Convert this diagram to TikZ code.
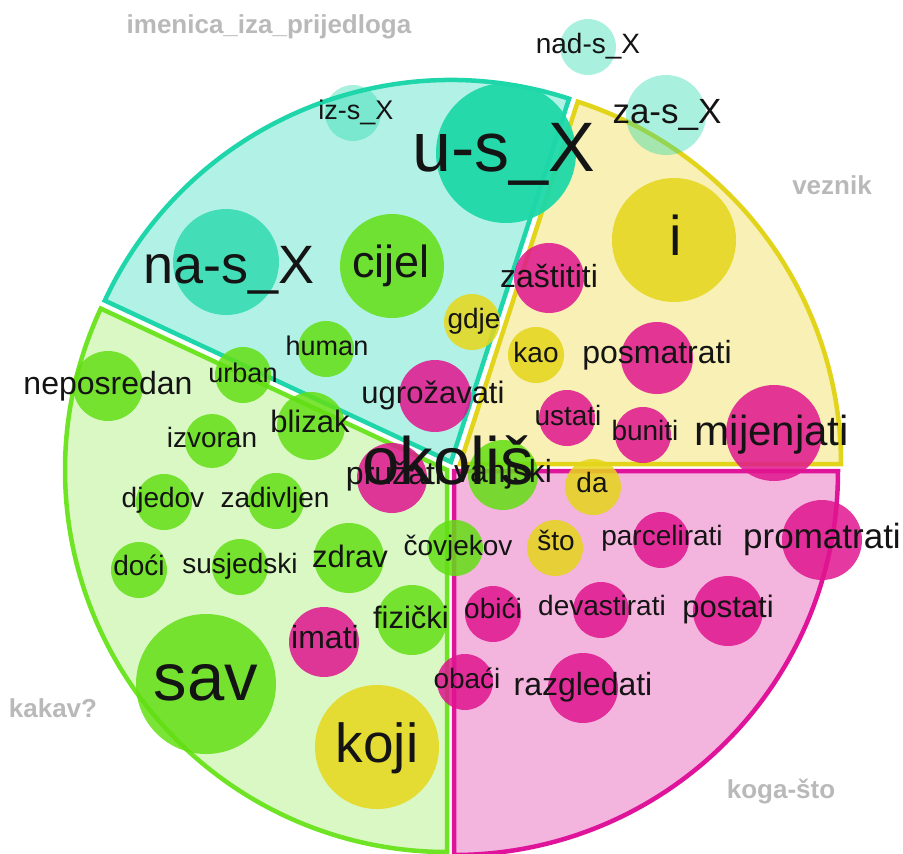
\documentclass[tikz,border=0pt]{standalone}
\usepackage{fontspec}
\setmainfont{Liberation Sans}

% palette
\definecolor{tealline}{HTML}{1FD6AB}
\definecolor{tealfill}{HTML}{B2F2E6}
\definecolor{tealdot}{HTML}{1ED8A8}
\definecolor{yelline}{HTML}{E2D41A}
\definecolor{yelfill}{HTML}{F8F0B4}
\definecolor{yeldot}{HTML}{E6D61A}
\definecolor{pinkline}{HTML}{E0149A}
\definecolor{pinkfill}{HTML}{F3B4DD}
\definecolor{pinkdot}{HTML}{E0158F}
\definecolor{grnline}{HTML}{6EE424}
\definecolor{grnfill}{HTML}{D9F8C4}
\definecolor{grndot}{HTML}{63DF14}
\definecolor{ink}{HTML}{141414}
\definecolor{tag}{HTML}{B9B9B9}

\tikzset{
  sector/.style={line width=4.5pt, line join=miter},
  bubble/.style={circle, inner sep=0pt, draw=none, fill opacity=0.85, minimum size=#1},
  gdot/.style={bubble=#1, fill=grndot},
  mdot/.style={bubble=#1, fill=pinkdot},
  ydot/.style={bubble=#1, fill=yeldot},
  tdot/.style={bubble=#1, fill=tealdot, fill opacity=0.95},
  tmid/.style={bubble=#1, fill=tealdot, fill opacity=0.75},
  tpale/.style={bubble=#1, fill=tealdot, fill opacity=0.38},
  word/.style={anchor=base, inner sep=0pt, text=ink, font=\fontsize{#1}{#1}\selectfont},
  tagname/.style={anchor=base, inner sep=0pt, text=tag, font=\fontsize{26}{26}\selectfont\bfseries},
}

\begin{document}
\begin{tikzpicture}[x=1pt, y=-1pt]
\useasboundingbox (0,0) rectangle (903,854);

% four sectors of the pie, each pushed slightly outwards
\filldraw[sector, draw=tealline, fill=tealfill]
  (451,462) -- ++(-72:382) arc[start angle=-72, end angle=-155, radius=382] -- cycle;
\filldraw[sector, draw=yelline, fill=yelfill]
  (460,464) -- ++(0:381) arc[start angle=0, end angle=-72, radius=381] -- cycle;
\filldraw[sector, draw=pinkline, fill=pinkfill]
  (454,471) -- ++(0:384) arc[start angle=0, end angle=90, radius=384] -- cycle;
\filldraw[sector, draw=grnline, fill=grnfill]
  (447,470) -- ++(90:382) arc[start angle=90, end angle=205, radius=382] -- cycle;

% sector titles
\node[tagname] (t-imenica) at (269,33) {imenica\_iza\_prijedloga};
\node[tagname] (t-veznik) at (832,194) {veznik};
\node[tagname] (t-kakav) at (53,717) {kakav?};
\node[tagname] (t-koga) at (781,798) {koga-što};

% bubbles: prepositional phrases
\node[tpale=56]  (b-izs)  at (353,113) {};
\node[tdot=140]  (b-us)   at (506,153) {};
\node[tmid=106]  (b-nas)  at (226,262) {};
\node[tpale=56]  (b-nads) at (588,47) {};
\node[tpale=80]  (b-zas)  at (666,115) {};

% bubbles: adjectives
\node[gdot=104] (b-cijel)  at (392,266) {};
\node[gdot=56]  (b-human)  at (326,349) {};
\node[gdot=70]  (b-nepos)  at (108,386) {};
\node[gdot=56]  (b-urban)  at (243,375) {};
\node[gdot=68]  (b-blizak) at (311,426) {};
\node[gdot=54]  (b-izvor)  at (212,441) {};
\node[gdot=56]  (b-djedov) at (164,502) {};
\node[gdot=56]  (b-zadiv)  at (276,501) {};
\node[gdot=56]  (b-doci)   at (139,570) {};
\node[gdot=56]  (b-susj)   at (240,567) {};
\node[gdot=70]  (b-zdrav)  at (349,558) {};
\node[gdot=56]  (b-covj)   at (455,548) {};
\node[gdot=70]  (b-fiz)    at (412,620) {};
\node[gdot=140] (b-sav)    at (206,684) {};
\node[gdot=70]  (b-vanj)   at (503,475) {};

% bubbles: verbs
\node[mdot=72]  (b-ugroz)  at (435,396) {};
\node[mdot=70]  (b-pruz)   at (392,478) {};
\node[mdot=70]  (b-imati)  at (324,642) {};
\node[mdot=70]  (b-zast)   at (549,278) {};
\node[mdot=72]  (b-posm)   at (657,358) {};
\node[mdot=56]  (b-ustati) at (567,418) {};
\node[mdot=56]  (b-buniti) at (643,435) {};
\node[mdot=96]  (b-mij)    at (774,433) {};
\node[mdot=56]  (b-parc)   at (661,540) {};
\node[mdot=80]  (b-prom)   at (822,540) {};
\node[mdot=56]  (b-obici)  at (493,614) {};
\node[mdot=56]  (b-devas)  at (601,610) {};
\node[mdot=70]  (b-post)   at (728,611) {};
\node[mdot=56]  (b-obaci)  at (465,682) {};
\node[mdot=70]  (b-razg)   at (583,688) {};

% bubbles: conjunctions and pronouns
\node[ydot=56]  (b-gdje) at (472,322) {};
\node[ydot=56]  (b-kao)  at (536,355) {};
\node[ydot=124] (b-i)    at (674,240) {};
\node[ydot=56]  (b-da)   at (593,487) {};
\node[ydot=56]  (b-sto)  at (555,548) {};
\node[ydot=124] (b-koji) at (377,747) {};

% words
\node[word=27] (w-izs)  at (356,119) {iz-s\_X};
\node[word=70] (w-us)   at (504,171) {u-s\_X};
\node[word=54] (w-nas)  at (229,283) {na-s\_X};
\node[word=28] (w-nads) at (588,53)  {nad-s\_X};
\node[word=35] (w-zas)  at (667,123) {za-s\_X};

\node[word=45] (w-cijel)  at (391,277) {cijel};
\node[word=27] (w-human)  at (327,355) {human};
\node[word=32] (w-nepos)  at (108,394) {neposredan};
\node[word=27] (w-urban)  at (243,382) {urban};
\node[word=31] (w-blizak) at (310,432) {blizak};
\node[word=28] (w-izvor)  at (212,447) {izvoran};
\node[word=28] (w-djedov) at (163,507) {djedov};
\node[word=28] (w-zadiv)  at (275,507) {zadivljen};
\node[word=28] (w-doci)   at (139,575) {doći};
\node[word=28] (w-susj)   at (240,573) {susjedski};
\node[word=31] (w-zdrav)  at (350,567) {zdrav};
\node[word=28] (w-covj)   at (458,555) {čovjekov};
\node[word=31] (w-fiz)    at (411,628) {fizički};
\node[word=67] (w-sav)    at (206,700) {sav};
\node[word=32] (w-vanj)   at (503,482) {vanjski};

\node[word=31] (w-ugroz)  at (433,403) {ugrožavati};
\node[word=32] (w-pruz)   at (394,484) {pružati};
\node[word=32] (w-imati)  at (325,648) {imati};
\node[word=32] (w-zast)   at (549,287) {zaštititi};
\node[word=32] (w-posm)   at (657,363) {posmatrati};
\node[word=28] (w-ustati) at (568,425) {ustati};
\node[word=28] (w-buniti) at (645,440) {buniti};
\node[word=42] (w-mij)    at (772,445) {mijenjati};
\node[word=28] (w-parc)   at (662,545) {parcelirati};
\node[word=35] (w-prom)   at (822,548) {promatrati};
\node[word=28] (w-obici)  at (493,618) {obići};
\node[word=28] (w-devas)  at (602,615) {devastirati};
\node[word=31] (w-post)   at (728,617) {postati};
\node[word=28] (w-obaci)  at (467,688) {obaći};
\node[word=32] (w-razg)   at (583,695) {razgledati};

\node[word=28] (w-gdje) at (474,328) {gdje};
\node[word=28] (w-kao)  at (536,362) {kao};
\node[word=56] (w-i)    at (676,255) {i};
\node[word=28] (w-da)   at (592,492) {da};
\node[word=28] (w-sto)  at (556,550) {što};
\node[word=55] (w-koji) at (377,762) {koji};

% the headword in the middle
\node[word=67] (w-okolis) at (448,484) {okoliš};
\end{tikzpicture}
\end{document}
